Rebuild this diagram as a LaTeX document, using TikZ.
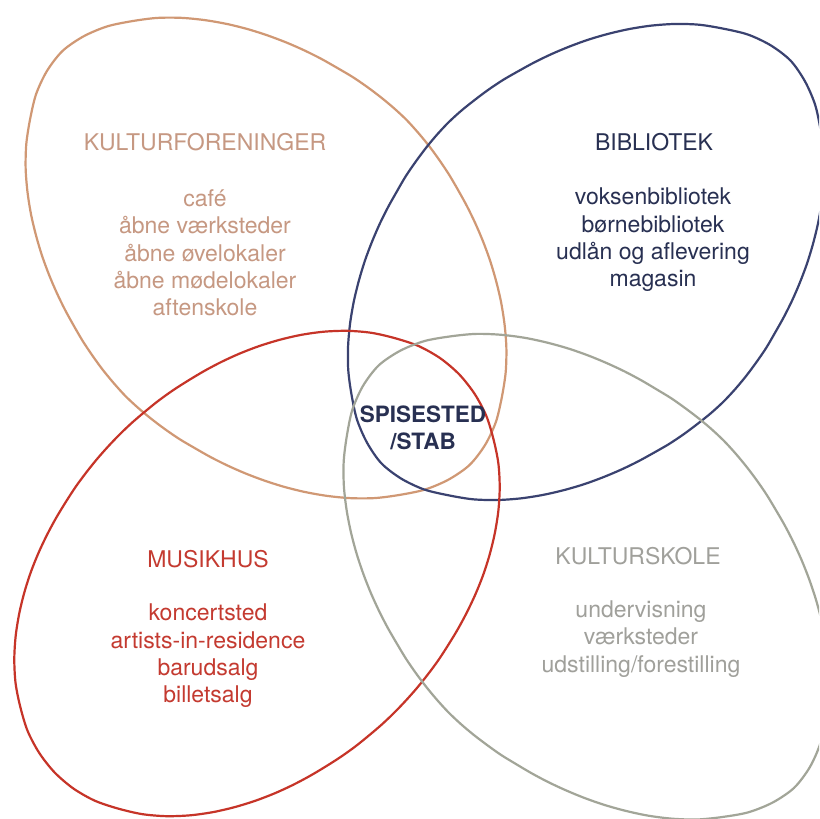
\documentclass[tikz,border=0pt]{standalone}
\usepackage{fontspec}
\setmainfont{TeX Gyre Heros}
\definecolor{tanline}{RGB}{208,152,116}
\definecolor{tantext}{RGB}{198,152,130}
\definecolor{navyline}{RGB}{58,66,112}
\definecolor{navytext}{RGB}{40,48,82}
\definecolor{redline}{RGB}{198,52,40}
\definecolor{redtext}{RGB}{196,58,48}
\definecolor{grayline}{RGB}{162,165,152}
\definecolor{graytext}{RGB}{160,160,155}
\tikzset{
  declare function={sr(\t,\A,\B,\p)=100/((abs(cos(\t))/\A)^\p+(abs(sin(\t))/\B)^\p)^(1/\p);},
  blob/.style={line width=2.2pt, line join=round},
  lbl/.style={align=center, inner sep=0pt, font=\fontsize{23}{27.3}\selectfont},
}
% superellipse: centre (#2,#3), rotation #4, semi-axes #5,#6 (in 100pt), exponent #7
\newcommand{\myblob}[7][]{%
  \draw[#1] plot[smooth cycle, tension=0.5, domain=0.5:355.5, samples=72, variable=\t]
    ({#2+sr(\t,#5,#6,#7)*cos(\t+#4)}, {#3+sr(\t,#5,#6,#7)*sin(\t+#4)});}
\begin{document}
\begin{tikzpicture}[x=1pt,y=-1pt]
\useasboundingbox (0,0) rectangle (819,819);
\fill[white] (0,0) rectangle (819,819);
\begin{scope}
\clip (0,0) rectangle (819,819);
\myblob[tanline, blob]{266}{258}{45}{2.925}{1.97}{1.8}
\myblob[navyline, blob]{586}{262}{135}{2.89}{1.96}{1.8}
\myblob[redline, blob]{257}{573.5}{135}{2.875}{1.955}{1.95}
\myblob[grayline, blob]{586.3}{576.7}{45}{2.99}{1.934}{1.8}
\end{scope}
% texts
\node[lbl, text=tantext] (kfh) at (205,142) {KULTURFORENINGER};
\node[lbl, text=tantext] (kfb) at (205,253) {café\\åbne værksteder\\åbne øvelokaler\\åbne mødelokaler\\aftenskole};
\node[lbl, text=navytext] (bbh) at (654,142) {BIBLIOTEK};
\node[lbl, text=navytext] (bbb) at (653,240) {voksenbibliotek\\børnebibliotek\\udlån og aflevering\\magasin};
\node[lbl, text=redtext] (mhh) at (208,559) {MUSIKHUS};
\node[lbl, text=redtext] (mhb) at (208,656) {koncertsted\\artists-in-residence\\barudsalg\\billetsalg};
\node[lbl, text=graytext] (ksh) at (638,556) {KULTURSKOLE};
\node[lbl, text=graytext] (ksb) at (641,639) {undervisning\\værksteder\\udstilling/forestilling};
\node[lbl, text=navytext, font=\fontsize{22.5}{27.3}\selectfont\bfseries] (sp) at (423,428) {SPISESTED\\/STAB};
\end{tikzpicture}
\end{document}
